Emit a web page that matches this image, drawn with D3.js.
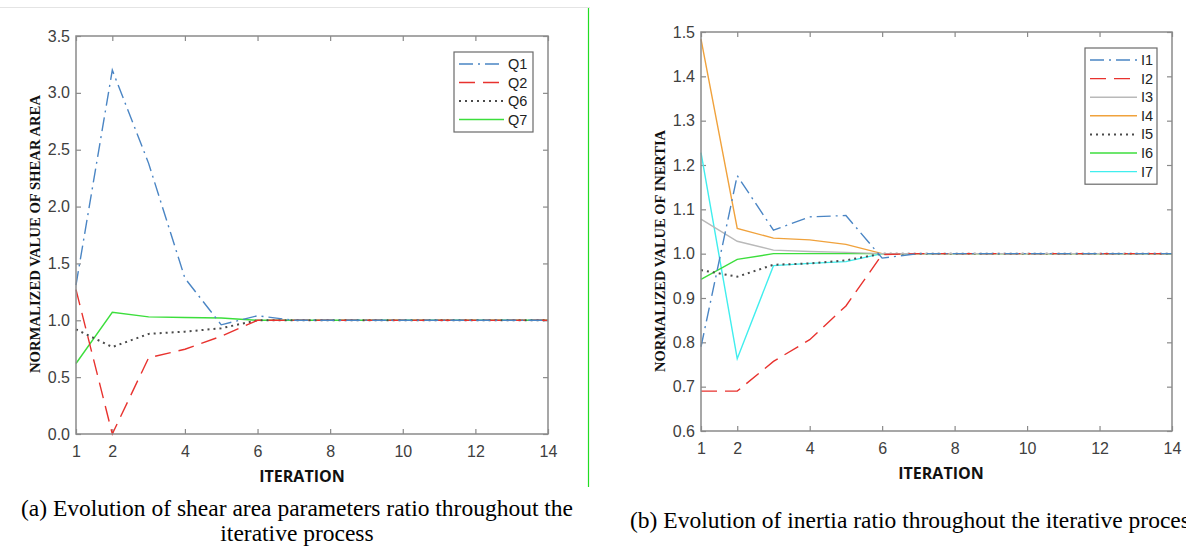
<!DOCTYPE html>
<html>
<head>
<meta charset="utf-8">
<script src="https://cdn.jsdelivr.net/npm/d3@7"></script>
<style>
  body { margin: 0; background: #fff; }
  svg { display: block; }
</style>
</head>
<body>
<div id="chart"></div>
<script>
// iterations on the x axis
const iterations = [1, 2, 3, 4, 5, 6, 7, 8, 9, 10, 11, 12, 13, 14];
const xTicks = [1, 2, 4, 6, 8, 10, 12, 14];

// (a) shear area parameters
const Q1 = [1.31, 3.2, 2.38, 1.37, 0.96, 1.04, 1.0, 1.0, 1.0, 1.0, 1.0, 1.0, 1.0, 1.0];
const Q2 = [1.27, 0.0, 0.67, 0.745, 0.86, 1.0, 1.0, 1.0, 1.0, 1.0, 1.0, 1.0, 1.0, 1.0];
const Q6 = [0.92, 0.765, 0.88, 0.9, 0.93, 1.0, 1.0, 1.0, 1.0, 1.0, 1.0, 1.0, 1.0, 1.0];
const Q7 = [0.62, 1.07, 1.03, 1.025, 1.02, 1.0, 1.0, 1.0, 1.0, 1.0, 1.0, 1.0, 1.0, 1.0];
const yTicksA = [0, 0.5, 1.0, 1.5, 2.0, 2.5, 3.0, 3.5];

// (b) inertia
const I1 = [0.79, 1.176, 1.053, 1.083, 1.086, 0.99, 1.0, 1.0, 1.0, 1.0, 1.0, 1.0, 1.0, 1.0];
const I2 = [0.69, 0.69, 0.757, 0.806, 0.882, 0.998, 1.0, 1.0, 1.0, 1.0, 1.0, 1.0, 1.0, 1.0];
const I3 = [1.078, 1.028, 1.008, 1.005, 1.003, 1.0, 1.0, 1.0, 1.0, 1.0, 1.0, 1.0, 1.0, 1.0];
const I4 = [1.484, 1.057, 1.035, 1.031, 1.021, 1.0, 1.0, 1.0, 1.0, 1.0, 1.0, 1.0, 1.0, 1.0];
const I5 = [0.963, 0.948, 0.975, 0.978, 0.985, 1.0, 1.0, 1.0, 1.0, 1.0, 1.0, 1.0, 1.0, 1.0];
const I6 = [0.942, 0.987, 1.0, 1.0, 1.0, 1.0, 1.0, 1.0, 1.0, 1.0, 1.0, 1.0, 1.0, 1.0];
const I7 = [1.228, 0.763, 0.973, 0.978, 0.982, 1.0, 1.0, 1.0, 1.0, 1.0, 1.0, 1.0, 1.0, 1.0];
const yTicksB = [0.6, 0.7, 0.8, 0.9, 1.0, 1.1, 1.2, 1.3, 1.4, 1.5];

const blue = "#4a85c4";
const red = "#e8322e";
const green = "#3cde3c";
const dotGray = "#4a4a4a";
const orange = "#f0a23c";
const cyan = "#40eeee";
const lightGray = "#b9b9b9";

const dashDot = "14,5,2,5";
const dashed = "16,8";
const dotted = "2,4";

const seriesA = [
  {name: "Q1", values: Q1, color: blue, dash: dashDot},
  {name: "Q2", values: Q2, color: red, dash: dashed},
  {name: "Q6", values: Q6, color: dotGray, dash: dotted},
  {name: "Q7", values: Q7, color: green, dash: null}
];
const seriesB = [
  {name: "I1", values: I1, color: blue, dash: dashDot},
  {name: "I2", values: I2, color: red, dash: dashed},
  {name: "I3", values: I3, color: lightGray, dash: null},
  {name: "I4", values: I4, color: orange, dash: null},
  {name: "I5", values: I5, color: dotGray, dash: dotted},
  {name: "I6", values: I6, color: green, dash: null},
  {name: "I7", values: I7, color: cyan, dash: null}
];

const width = 1186;
const height = 548;

const svg = d3.select("#chart").append("svg")
    .attr("width", width)
    .attr("height", height);

// faint rule at the top of the page and green separator
svg.append("line")
    .attr("x1", 0).attr("x2", 590).attr("y1", 7.5).attr("y2", 7.5)
    .attr("stroke", "#e4e4e4");
svg.append("line")
    .attr("x1", 588.5).attr("x2", 588.5).attr("y1", 8).attr("y2", 487)
    .attr("stroke", "#22dd22").attr("stroke-width", 1.2);

function panel(opt) {
  const x = d3.scaleLinear().domain([1, 14]).range([opt.left, opt.right]);
  const y = d3.scaleLinear().domain(opt.yDomain).range([opt.bottom, opt.top]);
  const g = svg.append("g");

  const styleAxis = sel => {
    sel.attr("font-size", 16).attr("font-family", "'Liberation Sans', Arial, sans-serif");
    sel.select(".domain").remove();
    sel.selectAll(".tick line").attr("stroke", "#8a8a8a").attr("stroke-width", 1.2);
    sel.selectAll(".tick text").attr("fill", "#404040");
  };

  g.append("g")
      .attr("transform", `translate(0,${opt.bottom})`)
      .call(d3.axisBottom(x).tickValues(xTicks).tickSize(-5).tickPadding(12).tickSizeOuter(0))
      .call(styleAxis);
  g.append("g")
      .attr("transform", `translate(0,${opt.top})`)
      .call(d3.axisTop(x).tickValues(xTicks).tickSize(-5).tickFormat("").tickSizeOuter(0))
      .call(styleAxis);
  g.append("g")
      .attr("transform", `translate(${opt.left},0)`)
      .call(d3.axisLeft(y).tickValues(opt.yTicks).tickSize(-5).tickPadding(6)
        .tickFormat(d3.format(".1f")).tickSizeOuter(0))
      .call(styleAxis);
  g.append("g")
      .attr("transform", `translate(${opt.right},0)`)
      .call(d3.axisRight(y).tickValues(opt.yTicks).tickSize(-5).tickFormat("").tickSizeOuter(0))
      .call(styleAxis);

  const line = d3.line().x((d, i) => x(iterations[i])).y(d => y(d));
  g.append("g").selectAll("path")
    .data(opt.series.slice().reverse())
    .join("path")
      .attr("d", d => line(d.values))
      .attr("fill", "none")
      .attr("stroke", d => d.color)
      .attr("stroke-width", d => d.dash === dotted ? 2 : 1.4)
      .attr("stroke-dasharray", d => d.dash);

  // plot box
  g.append("rect")
      .attr("x", opt.left).attr("y", opt.top)
      .attr("width", opt.right - opt.left).attr("height", opt.bottom - opt.top)
      .attr("fill", "none").attr("stroke", "#8a8a8a").attr("stroke-width", 1.5);

  // legend
  const lg = opt.legend;
  const leg = g.append("g");
  leg.append("rect")
      .attr("x", lg.x).attr("y", lg.y).attr("width", lg.w)
      .attr("height", opt.series.length * lg.step + 6)
      .attr("fill", "#fff").attr("stroke", "#6a6a6a").attr("stroke-width", 1.2);
  opt.series.forEach((s, i) => {
    const yy = lg.y + 12 + i * lg.step;
    leg.append("line")
        .attr("x1", lg.x + 5).attr("x2", lg.x + 5 + lg.len)
        .attr("y1", yy).attr("y2", yy)
        .attr("stroke", s.color)
        .attr("stroke-width", s.dash === dotted ? 2 : 1.4)
        .attr("stroke-dasharray", s.dash);
    leg.append("text")
        .attr("x", lg.x + 9 + lg.len).attr("y", yy + 5)
        .attr("fill", "#222")
        .style("font-family", "'Liberation Sans', Arial, sans-serif")
        .style("font-size", "14.5px")
        .text(s.name);
  });

  // axis titles
  g.append("text")
      .attr("transform", `translate(${opt.yTitleX},${opt.yTitleY}) rotate(-90)`)
      .attr("text-anchor", "middle")
      .attr("fill", "#111")
      .style("font-family", "'Liberation Serif', 'Times New Roman', serif")
      .style("font-weight", "bold")
      .style("font-size", opt.yTitleSize)
      .text(opt.yTitle);
  g.append("text")
      .attr("x", opt.xTitleX).attr("y", opt.xTitleY)
      .attr("text-anchor", "middle")
      .attr("fill", "#111")
      .style("font-family", "'Open Sans', sans-serif")
      .style("font-weight", "bold")
      .style("font-size", "16px")
      .text("ITERATION");
}

panel({
  left: 76, right: 548, top: 36, bottom: 434,
  yDomain: [0, 3.5], yTicks: yTicksA, series: seriesA,
  legend: {x: 454, y: 52, w: 79, step: 18.5, len: 45},
  yTitle: "NORMALIZED VALUE OF SHEAR AREA", yTitleX: 40, yTitleY: 234, yTitleSize: "14.7px",
  xTitleX: 302, xTitleY: 482
});
panel({
  left: 701, right: 1172, top: 32, bottom: 431,
  yDomain: [0.6, 1.5], yTicks: yTicksB, series: seriesB,
  legend: {x: 1085, y: 48, w: 72, step: 18.6, len: 47},
  yTitle: "NORMALIZED VALUE OF INERTIA", yTitleX: 665, yTitleY: 251, yTitleSize: "14.5px",
  xTitleX: 941, xTitleY: 479
});

// captions
const cap = svg.append("g")
    .attr("fill", "#000")
    .style("font-family", "'Liberation Serif', 'Times New Roman', serif")
    .style("font-size", "23.5px");
cap.append("text").attr("x", 297).attr("y", 516).attr("text-anchor", "middle")
    .text("(a) Evolution of shear area parameters ratio throughout the");
cap.append("text").attr("x", 297).attr("y", 541).attr("text-anchor", "middle")
    .text("iterative process");
cap.append("text").attr("x", 630).attr("y", 528)
    .text("(b) Evolution of inertia ratio throughout the iterative process");
</script>
</body>
</html>
